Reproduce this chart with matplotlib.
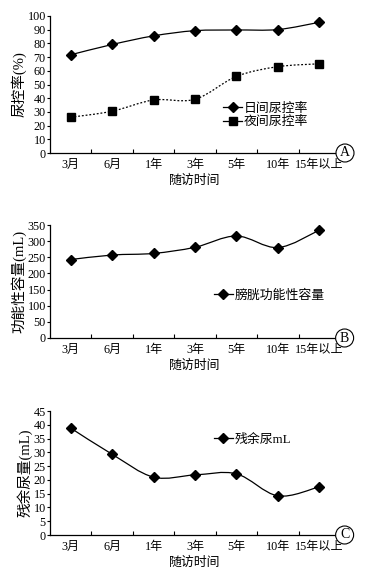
import numpy as np
import matplotlib
matplotlib.use("Agg")
import matplotlib.pyplot as plt
from matplotlib.path import Path
from matplotlib.patches import PathPatch
from matplotlib.lines import Line2D

plt.rcParams["font.family"] = ["Liberation Serif", "Noto Sans CJK SC"]

categories = ["3月", "6月", "1年", "3年", "5年", "10年", "15年以上"]
day_rate = [71.7, 79.2, 85.5, 89.3, 89.8, 90.1, 95.4]
night_rate = [26.1, 30.5, 38.7, 39.2, 55.9, 63.0, 65.1]
capacity = [243, 257, 262, 281, 316, 280, 334]
residual = [38.8, 29.3, 21.0, 21.8, 22.2, 14.2, 17.5]

W, H = 369, 577
fig = plt.figure(figsize=(W / 100, H / 100), dpi=100)


def ax_px(left, right, top, bottom):
    # axes box from pixel edges
    return fig.add_axes([left / W, 1 - bottom / H, (right - left) / W, (bottom - top) / H])


def smooth_path(x, y):
    # excel-style smoothed line: catmull-rom segments as cubic beziers
    pts = np.column_stack([x, y]).astype(float)
    n = len(pts)
    verts = [pts[0]]
    codes = [Path.MOVETO]
    for i in range(n - 1):
        p0 = pts[i - 1] if i > 0 else pts[i]
        p1, p2 = pts[i], pts[i + 1]
        p3 = pts[i + 2] if i + 2 < n else pts[i + 1]
        c1 = p1 + (p2 - p0) / 6
        c2 = p2 - (p3 - p1) / 6
        verts += [c1, c2, p2]
        codes += [Path.CURVE4] * 3
    return Path(verts, codes)


def draw_series(ax, vals, marker, ms, ls="-"):
    x = np.arange(len(vals))
    ax.add_patch(PathPatch(smooth_path(x, vals), fill=False, edgecolor="black",
                           linewidth=0.9, linestyle=ls, zorder=2))
    ax.plot(x, vals, linestyle="none", marker=marker, markersize=ms,
            color="black", zorder=3)


def style_axes(ax, ymax, ystep, ylabel, letter):
    ax.set_xlim(-0.5, len(categories) - 0.5)
    ax.set_ylim(0, ymax)
    ax.set_yticks(np.arange(0, ymax + 0.1, ystep))
    ax.set_xticks(np.arange(len(categories)))
    ax.set_xticklabels(categories)
    ax.set_xticks(np.arange(0.5, len(categories) - 1, 1), minor=True)
    ax.tick_params(axis="x", which="major", length=0, pad=4, labelsize=8.7)
    ax.tick_params(axis="x", which="minor", direction="in", length=3, width=0.8)
    ax.tick_params(axis="y", direction="out", length=2, width=0.8, pad=1, labelsize=8.7)
    for s in ("top", "right"):
        ax.spines[s].set_visible(False)
    for s in ("left", "bottom"):
        ax.spines[s].set_linewidth(0.9)
    ax.set_xlabel("随访时间", fontsize=9.3, labelpad=3)
    ax.set_ylabel(ylabel, fontsize=10.5, labelpad=1)
    ax.text(1.0, 0.0, letter, transform=ax.transAxes, fontsize=10,
            ha="left", va="center",
            bbox=dict(boxstyle="circle,pad=0.18", fc="white", ec="black", lw=0.8))


def handle(marker, ms):
    return Line2D([], [], color="black", linewidth=0.9, marker=marker, markersize=ms)


# panel A
axA = ax_px(50, 340, 16, 153)
draw_series(axA, day_rate, "D", 5)
draw_series(axA, night_rate, "s", 5.5, ls=(0, (1.5, 1.5)))
style_axes(axA, 100, 10, "尿控率(%)", "A")
axA.legend([handle("D", 5), handle("s", 5.5)], ["日间尿控率", "夜间尿控率"],
           loc="upper left", bbox_to_anchor=(217 / W, 1 - 96 / H),
           bbox_transform=fig.transFigure, frameon=False, fontsize=9.3,
           handlelength=1.4, handletextpad=0.15, labelspacing=0.1, borderpad=0)

# panel B
axB = ax_px(50, 340, 225, 338)
draw_series(axB, capacity, "D", 5)
style_axes(axB, 350, 50, "功能性容量(mL)", "B")
axB.legend([handle("D", 5)], ["膀胱功能性容量"],
           loc="upper left", bbox_to_anchor=(208 / W, 1 - 283 / H),
           bbox_transform=fig.transFigure, frameon=False, fontsize=9.3,
           handlelength=1.4, handletextpad=0.15, borderpad=0)

# panel C
axC = ax_px(50, 340, 411, 535)
draw_series(axC, residual, "D", 5)
style_axes(axC, 45, 5, "残余尿量(mL)", "C")
axC.legend([handle("D", 5)], ["残余尿mL"],
           loc="upper left", bbox_to_anchor=(208 / W, 1 - 427 / H),
           bbox_transform=fig.transFigure, frameon=False, fontsize=9.3,
           handlelength=1.4, handletextpad=0.15, borderpad=0)

fig.savefig("out.png", dpi=100)
